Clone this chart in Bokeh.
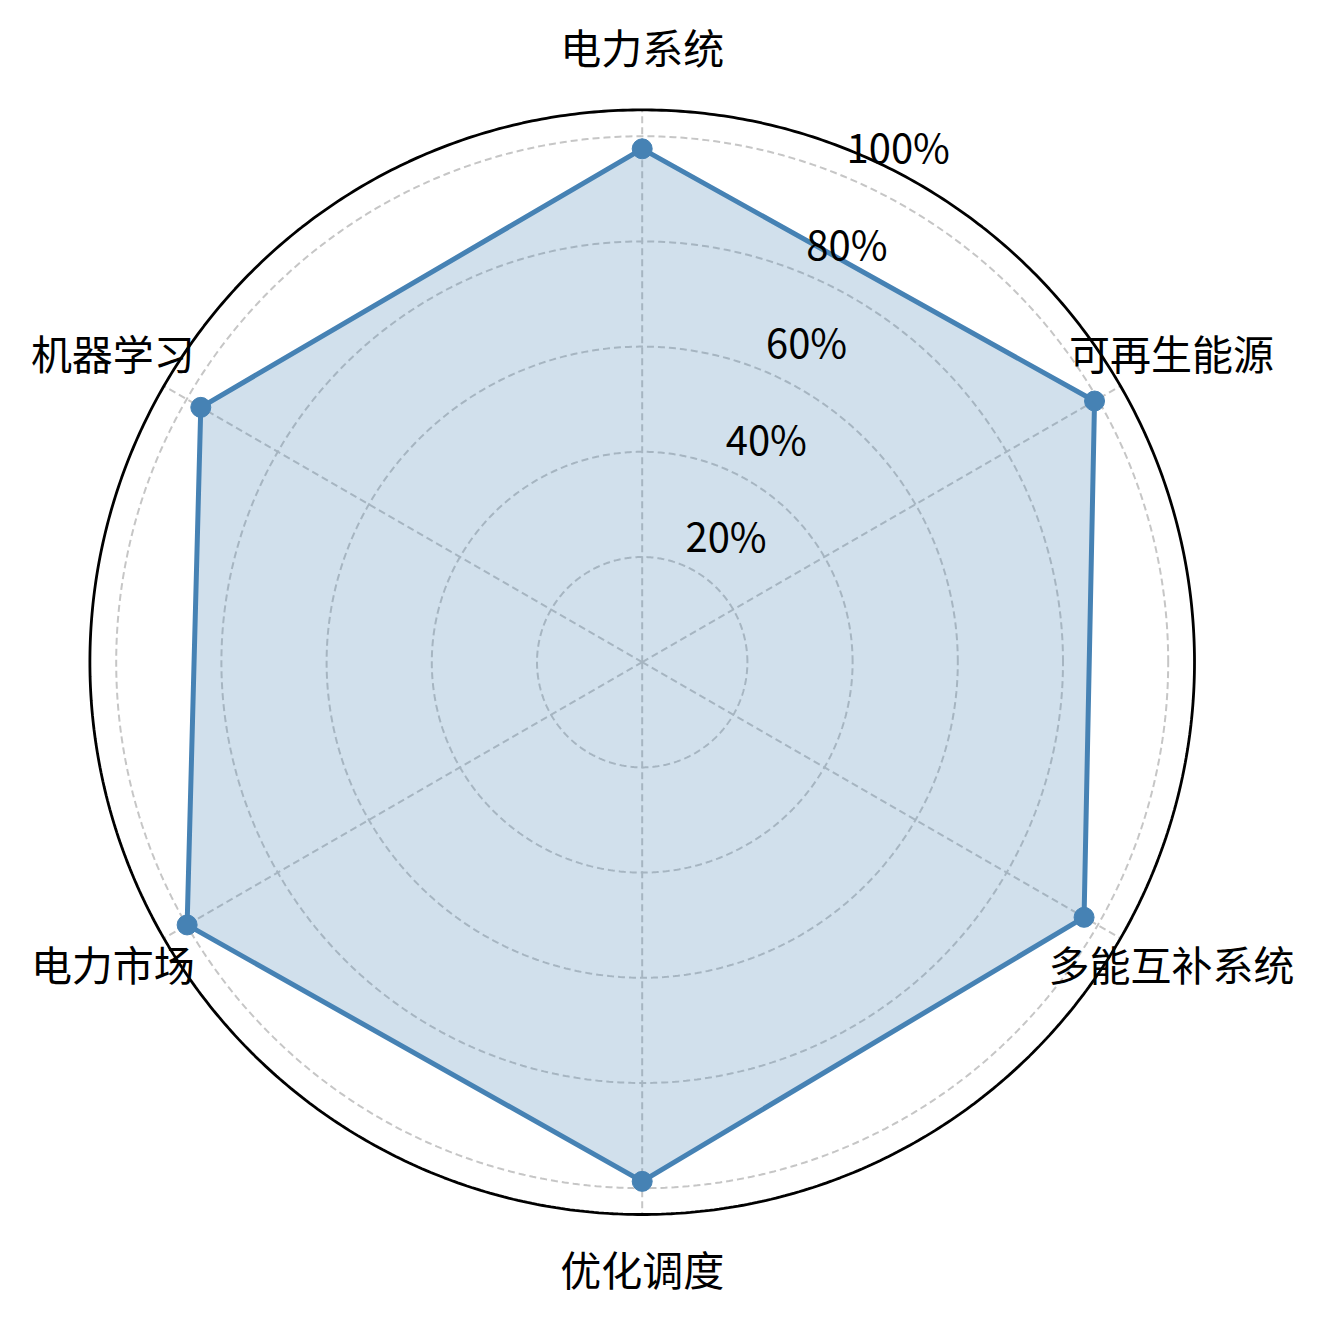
import numpy as np
from bokeh.plotting import figure
from bokeh.models import Range1d, ColumnDataSource
from bokeh.core.properties import value
from bokeh.embed import file_html
from bokeh.resources import INLINE

# ---- data ----
categories = ["电力系统", "可再生能源", "多能互补系统", "优化调度", "电力市场", "机器学习"]
scores = [97.6, 99.3, 97.0, 98.7, 99.9, 96.9]
r_ticks = [20, 40, 60, 80, 100]
r_tick_labels = ["20%", "40%", "60%", "80%", "100%"]
r_max = 105
label_radius = 116.2
rlabel_angle_deg = 22.5  # clockwise from top

# ---- layout ----
W, H = 1309, 1308
cx, cy = 641.7, 661.7      # centre in canvas px
s = 5.26                    # px per percent
FONT = "Noto Sans CJK SC"

p = figure(width=W, height=H, output_backend="svg", toolbar_location=None,
           x_range=Range1d(-cx / s, (W - cx) / s),
           y_range=Range1d(-(H - cy) / s, cy / s),
           x_axis_type=None, y_axis_type=None, min_border=0)
p.grid.visible = False
p.outline_line_color = None
p.background_fill_color = "white"
p.border_fill_color = "white"

n = len(categories)
theta = np.deg2rad(90 - np.arange(n) * 360.0 / n)

# grid circles
tt = np.linspace(0, 2 * np.pi, 721)
for r in r_ticks:
    p.line(r * np.cos(tt), r * np.sin(tt), line_color="#c6c6c6",
           line_width=2, line_dash="7 4")
# spokes
for th in theta:
    p.line([0, r_max * np.cos(th)], [0, r_max * np.sin(th)], line_color="#c6c6c6",
           line_width=2, line_dash="7 4")

# data polygon
vals = np.array(scores)
xs = vals * np.cos(theta)
ys = vals * np.sin(theta)
p.patch(list(xs), list(ys), fill_color="steelblue", fill_alpha=0.25, line_color=None)
p.line(list(xs) + [xs[0]], list(ys) + [ys[0]], line_color="steelblue", line_width=5,
       line_join="round")
p.scatter(xs, ys, size=20, fill_color="steelblue", line_color="steelblue")

# outer circle
p.line(r_max * np.cos(tt), r_max * np.sin(tt), line_color="black", line_width=2.8)

# radial tick labels
ra = np.deg2rad(90 - rlabel_angle_deg)
rsrc = ColumnDataSource(dict(x=[r * np.cos(ra) for r in r_ticks],
                             y=[r * np.sin(ra) for r in r_ticks],
                             t=r_tick_labels))
p.text(x="x", y="y", text="t", source=rsrc, text_font=value(FONT),
       text_font_size="40px", text_align="left", text_baseline="alphabetic",
       x_offset=3, y_offset=-30, text_color="black")

# category labels
csrc = ColumnDataSource(dict(x=list(label_radius * np.cos(theta)),
                             y=list(label_radius * np.sin(theta)),
                             t=categories))
p.text(x="x", y="y", text="t", source=csrc, text_font=value(FONT),
       text_font_size="41px", text_align="center", text_baseline="middle",
       y_offset=-5, text_color="black")

open("out.html", "w").write(file_html(p, INLINE))
